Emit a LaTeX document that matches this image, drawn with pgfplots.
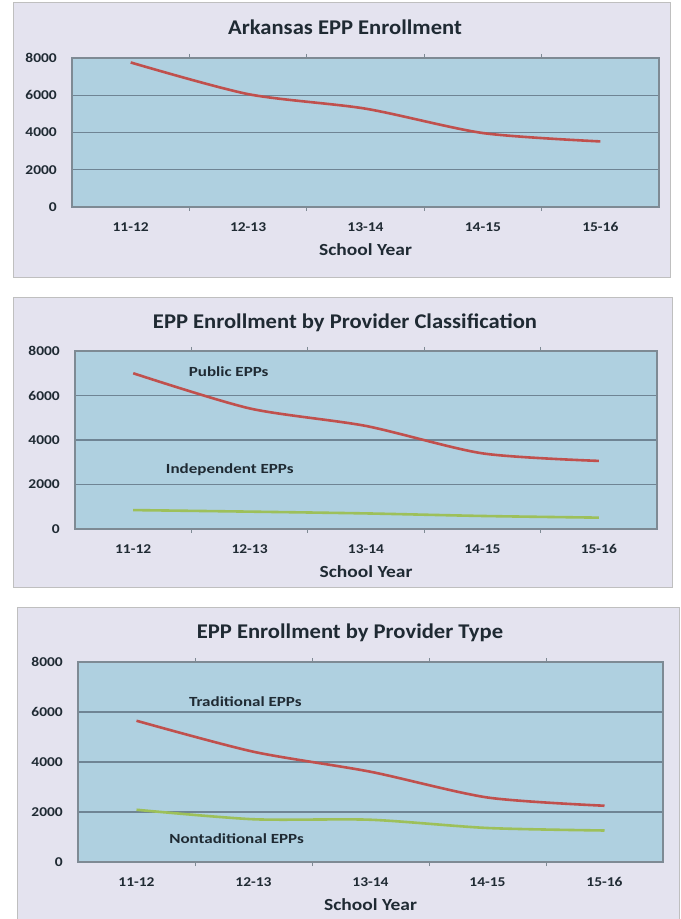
\documentclass[border=0pt]{standalone}
\usepackage{pgfplots}
\pgfplotsset{compat=1.18}
\usepackage{fontspec}
\setmainfont{Carlito}
\newfontfamily\wideT[FakeStretch=1.08]{Carlito}
\newfontfamily\wideA[FakeStretch=1.15]{Carlito}
\newfontfamily\wideS[FakeStretch=1.22]{Carlito}
\definecolor{panelbg}{HTML}{E4E3EF}
\definecolor{plotbg}{HTML}{AFD0E0}
\definecolor{gridc}{HTML}{6F8494}
\definecolor{axisc}{HTML}{7E8A94}
\definecolor{redl}{HTML}{C0504D}
\definecolor{greenl}{HTML}{9DC05A}
\definecolor{txt}{HTML}{1F2A33}
\pgfplotsset{eppaxis/.style={
  scale only axis, xmin=-0.5, xmax=4.5, ymin=0, ymax=8000,
  xtick={0,...,4}, xticklabels={11-12,12-13,13-14,14-15,15-16},
  ytick={0,2000,4000,6000,8000},
  minor xtick={0.5,1.5,2.5,3.5},
  major tick length=0pt, minor tick length=4bp, tick align=outside,
  ymajorgrids, major grid style={gridc, line width=1.2bp},
  axis line style={axisc, line width=1.2bp},
  axis background/.style={fill=plotbg},
  tick style={axisc, line width=1bp},
  /pgf/number format/assume math mode=true,
  /pgf/number format/set thousands separator={},
  scaled y ticks=false,
  tick label style={font=\wideA\fontsize{13.5}{14}\selectfont\bfseries, text=txt, inner sep=0pt},
  xticklabel style={anchor=center, yshift=-20bp},
  yticklabel style={anchor=east, xshift=-15bp},
  xlabel={School Year},
  xlabel style={font=\wideA\fontsize{17}{18}\selectfont\bfseries, text=txt, at={(axis description cs:0.5,0)}, anchor=center, yshift=-43bp, inner sep=0pt},
  every axis plot/.append style={smooth, tension=0.45, no markers, line width=2.6bp},
  clip=false,
}}
\begin{document}
\begin{tikzpicture}[x=1bp,y=1bp]
\useasboundingbox (0,0) rectangle (681,919);
\fill[white] (0,0) rectangle (681,919);
\filldraw[fill=panelbg, draw=black!25, line width=1bp] (13,641) rectangle (670,916);
\filldraw[fill=panelbg, draw=black!25, line width=1bp] (13,331) rectangle (672,621);
\filldraw[fill=panelbg, draw=black!25, line width=1bp] (17,-2) rectangle (679,311);
\node[font=\wideT\fontsize{21}{22}\selectfont\bfseries, text=txt] at (345,892) {Arkansas EPP Enrollment};
\node[font=\wideT\fontsize{21}{22}\selectfont\bfseries, text=txt] at (345,596) {EPP Enrollment by Provider Classification};
\node[font=\wideT\fontsize{21}{22}\selectfont\bfseries, text=txt] at (350,286) {EPP Enrollment by Provider Type};

\begin{axis}[eppaxis, at={(72bp,712bp)}, anchor=south west, width=587bp, height=149bp]
\draw[axisc, line width=2.5bp] (rel axis cs:0,1) -- (rel axis cs:0,0) -- (rel axis cs:1,0);
\addplot[redl] coordinates {(0,7760) (1,6060) (2,5280) (3,3970) (4,3520)};
\end{axis}

\begin{axis}[eppaxis, at={(75bp,390bp)}, anchor=south west, width=582bp, height=178bp]
\draw[axisc, line width=2.5bp] (rel axis cs:0,1) -- (rel axis cs:0,0) -- (rel axis cs:1,0);
\addplot[redl] coordinates {(0,7000) (1,5420) (2,4630) (3,3400) (4,3060)};
\addplot[greenl] coordinates {(0,850) (1,780) (2,700) (3,585) (4,510)};
\node[font=\wideS\fontsize{14}{15}\selectfont\bfseries, text=txt] at (axis cs:0.82,7056) {Public EPPs};
\node[font=\wideS\fontsize{14}{15}\selectfont\bfseries, text=txt] at (axis cs:0.83,2650) {Independent EPPs};
\end{axis}

\begin{axis}[eppaxis, at={(78bp,57bp)}, anchor=south west, width=585bp, height=200bp]
\draw[axisc, line width=2.5bp] (rel axis cs:0,1) -- (rel axis cs:0,0) -- (rel axis cs:1,0);
\addplot[redl] coordinates {(0,5650) (1,4410) (2,3610) (3,2580) (4,2250)};
\addplot[greenl] coordinates {(0,2090) (1,1710) (2,1690) (3,1360) (4,1260)};
\node[font=\wideS\fontsize{14}{15}\selectfont\bfseries, text=txt] at (axis cs:0.93,6400) {Traditional EPPs};
\node[font=\wideS\fontsize{14}{15}\selectfont\bfseries, text=txt] at (axis cs:0.855,920) {Nontaditional EPPs};
\end{axis}
\end{tikzpicture}
\end{document}
